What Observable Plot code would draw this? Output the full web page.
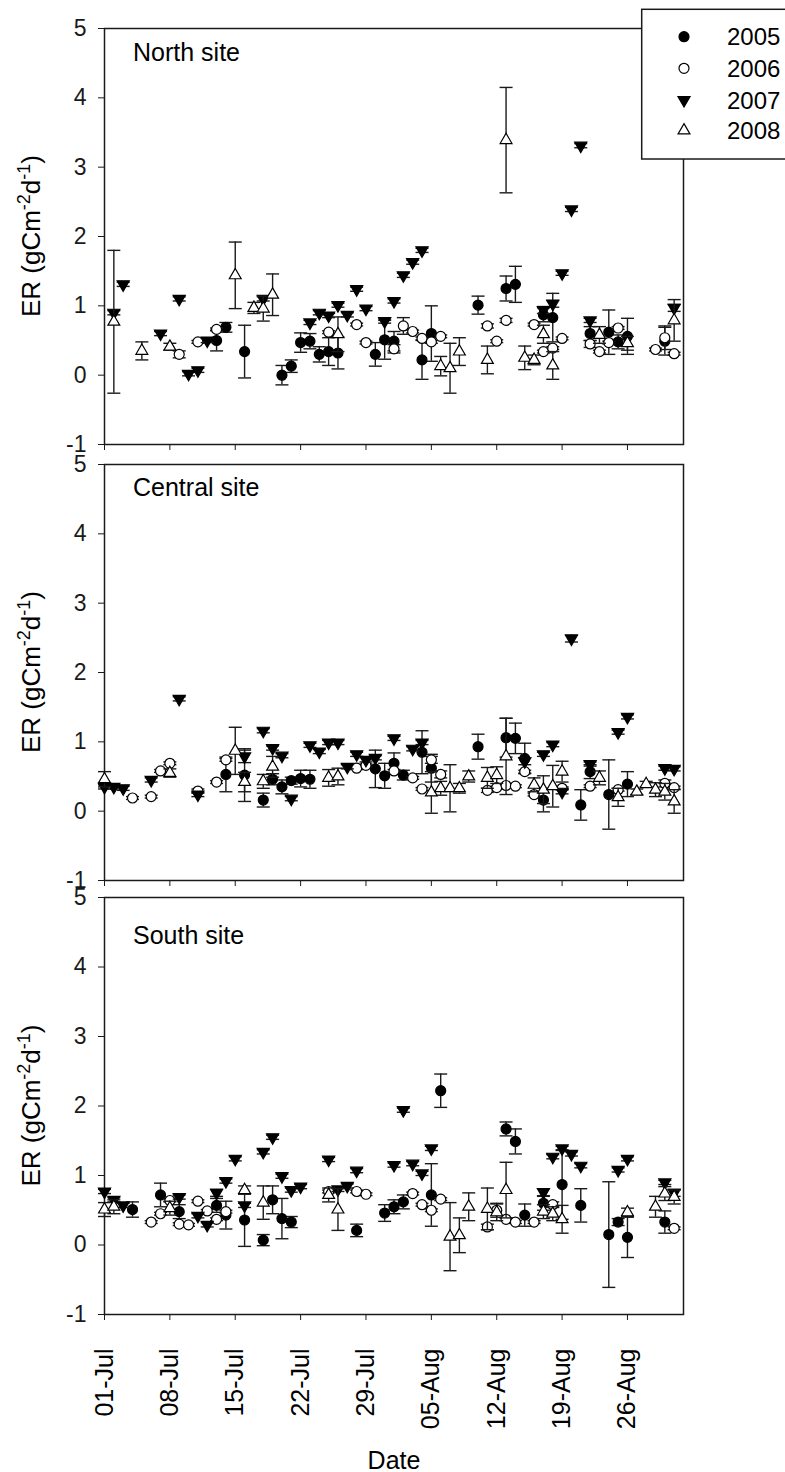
<!DOCTYPE html>
<html><head><meta charset="utf-8">
<script src="https://cdn.jsdelivr.net/npm/d3@7"></script>
<script src="https://cdn.jsdelivr.net/npm/@observablehq/plot@0.6"></script>
<style>
html,body{margin:0;padding:0;background:#fff;}
#wrap{position:relative;width:785px;height:1472px;overflow:hidden;font-family:"Liberation Sans",Arial,sans-serif;}
</style></head><body><div id="wrap"></div><script>
// ---------- data ----------
const years = ["2005", "2006", "2007", "2008"];
const sites = ["North site", "Central site", "South site"];
const tickDays = [0, 7, 14, 21, 28, 35, 42, 49, 56];       // days after 01-Jul
const tickLabels = ["01-Jul", "08-Jul", "15-Jul", "22-Jul", "29-Jul", "05-Aug", "12-Aug", "19-Aug", "26-Aug"];
const yTicks = [-1, 0, 1, 2, 3, 4, 5];
const yLabel = ["ER (gCm", "-2", "d", "-1", ")"];
const xLabel = "Date";

// [day after 01-Jul, ER, error]
const north2005 = [[12,0.50,0.15],[13,0.69,0.07],[15,0.34,0.38],[19,0.00,0.14],[20,0.13,0.09],[21,0.47,0.14],[22,0.49,0.11],[23,0.30,0.11],[24,0.34,0.20],[25,0.32,0.23],[29,0.30,0.17],[30,0.51,0.28],[31,0.49,0.14],[34,0.22,0.28],[35,0.60,0.40],[40,1.01,0.13],[43,1.25,0.18],[44,1.31,0.26],[47,0.87,0.10],[48,0.83,0.35],[52,0.60,0.10],[54,0.62,0.32],[55,0.48,0.10],[56,0.56,0.26],[60,0.49,0.20]];
const north2006 = [[8,0.30,0.05],[10,0.48,0.02],[12,0.66,0.02],[24,0.62,0.02],[27,0.73,0.02],[28,0.47,0.02],[31,0.38,0.06],[32,0.71,0.12],[33,0.63,0.02],[34,0.53,0.02],[35,0.48,0.02],[36,0.56,0.02],[41,0.71,0.03],[42,0.49,0.02],[43,0.79,0.03],[46,0.73,0.02],[47,0.34,0.02],[48,0.39,0.02],[49,0.53,0.02],[52,0.45,0.05],[53,0.34,0.02],[54,0.47,0.02],[55,0.68,0.02],[59,0.37,0.02],[60,0.54,0.17],[61,0.31,0.02]];
const north2007 = [[1,0.90,0.03],[2,1.31,0.03],[6,0.60,0.03],[8,1.10,0.03],[9,0.02,0.03],[10,0.07,0.03],[11,0.50,0.03],[17,1.10,0.03],[22,0.76,0.03],[23,0.90,0.03],[24,0.86,0.03],[25,1.01,0.03],[26,0.87,0.03],[27,1.24,0.03],[28,0.96,0.03],[30,0.78,0.03],[31,1.07,0.03],[32,1.44,0.03],[33,1.63,0.03],[34,1.80,0.03],[47,0.94,0.05],[48,1.03,0.05],[49,1.47,0.03],[50,2.39,0.03],[51,3.31,0.03],[52,0.79,0.03],[61,0.97,0.05]];
const north2008 = [[1,0.77,1.03],[4,0.35,0.13],[7,0.41,0.05],[14,1.44,0.48],[16,0.97,0.08],[17,0.96,0.18],[18,1.16,0.30],[25,0.59,0.25],[36,0.13,0.14],[37,0.10,0.36],[38,0.34,0.20],[41,0.22,0.20],[43,3.39,0.76],[45,0.25,0.17],[46,0.22,0.07],[47,0.59,0.13],[48,0.14,0.20],[53,0.58,0.12],[56,0.46,0.10],[61,0.79,0.30]];

const central2005 = [[13,0.53,0.25],[15,0.52,0.38],[17,0.16,0.10],[18,0.46,0.08],[19,0.35,0.10],[20,0.44,0.05],[21,0.47,0.12],[22,0.46,0.13],[29,0.61,0.27],[30,0.51,0.18],[31,0.69,0.15],[32,0.52,0.07],[34,0.85,0.31],[35,0.62,0.20],[40,0.93,0.18],[43,1.06,0.28],[44,1.05,0.22],[45,0.76,0.22],[47,0.16,0.17],[51,0.09,0.22],[52,0.57,0.10],[54,0.24,0.50],[56,0.39,0.18]];
const central2006 = [[3,0.19,0.02],[5,0.21,0.02],[6,0.58,0.02],[7,0.69,0.02],[10,0.29,0.03],[12,0.42,0.02],[13,0.74,0.02],[27,0.62,0.02],[28,0.66,0.02],[31,0.58,0.02],[33,0.48,0.02],[34,0.32,0.02],[35,0.74,0.05],[36,0.53,0.05],[41,0.30,0.03],[42,0.34,0.02],[43,0.37,0.02],[44,0.36,0.02],[45,0.57,0.02],[46,0.24,0.02],[49,0.33,0.02],[52,0.36,0.02],[55,0.31,0.02],[60,0.40,0.05],[61,0.34,0.02]];
const central2007 = [[0,0.35,0.03],[1,0.35,0.03],[2,0.33,0.03],[5,0.45,0.03],[8,1.62,0.03],[10,0.24,0.03],[15,0.79,0.09],[17,1.16,0.03],[18,0.91,0.03],[19,0.80,0.03],[20,0.18,0.03],[22,0.95,0.03],[23,0.86,0.03],[24,0.99,0.03],[25,0.99,0.03],[26,0.64,0.03],[27,0.82,0.03],[28,0.74,0.03],[29,0.77,0.03],[31,1.05,0.03],[33,0.90,0.03],[34,0.99,0.03],[45,0.72,0.05],[47,0.82,0.03],[48,0.96,0.03],[49,0.28,0.03],[50,2.49,0.05],[52,0.68,0.03],[55,1.14,0.03],[56,1.36,0.03],[60,0.62,0.03],[61,0.61,0.03]];
const central2008 = [[0,0.46,0.11],[7,0.55,0.06],[14,0.87,0.34],[15,0.42,0.14],[17,0.43,0.10],[18,0.64,0.15],[24,0.48,0.12],[25,0.50,0.12],[35,0.27,0.30],[36,0.33,0.10],[37,0.33,0.34],[38,0.33,0.07],[39,0.50,0.08],[41,0.48,0.15],[42,0.52,0.12],[43,0.79,0.55],[46,0.38,0.10],[47,0.31,0.20],[48,0.36,0.30],[49,0.57,0.15],[53,0.48,0.10],[55,0.20,0.13],[57,0.28,0.04],[58,0.39,0.04],[59,0.31,0.10],[60,0.28,0.12],[61,0.14,0.17]];

const south2005 = [[3,0.51,0.11],[6,0.72,0.17],[8,0.48,0.10],[12,0.57,0.10],[13,0.43,0.20],[15,0.36,0.38],[17,0.07,0.08],[18,0.65,0.20],[19,0.38,0.29],[20,0.33,0.08],[27,0.21,0.09],[30,0.46,0.12],[31,0.55,0.10],[32,0.62,0.10],[35,0.72,0.45],[36,2.22,0.24],[43,1.67,0.10],[44,1.49,0.18],[45,0.43,0.16],[47,0.60,0.10],[49,0.87,0.50],[51,0.57,0.24],[54,0.15,0.76],[55,0.33,0.05],[56,0.11,0.29],[60,0.33,0.16]];
const south2006 = [[5,0.33,0.02],[6,0.45,0.02],[7,0.64,0.02],[8,0.30,0.02],[9,0.29,0.02],[10,0.63,0.02],[11,0.49,0.02],[12,0.37,0.02],[13,0.48,0.02],[24,0.77,0.02],[27,0.77,0.02],[28,0.73,0.02],[33,0.74,0.02],[34,0.58,0.02],[35,0.50,0.02],[36,0.66,0.02],[41,0.26,0.04],[42,0.50,0.10],[43,0.37,0.02],[44,0.33,0.02],[46,0.33,0.02],[48,0.58,0.04],[61,0.24,0.02]];
const south2007 = [[0,0.77,0.03],[1,0.65,0.03],[2,0.57,0.03],[8,0.69,0.03],[10,0.42,0.03],[11,0.29,0.03],[12,0.75,0.05],[13,0.92,0.03],[14,1.24,0.03],[15,0.57,0.03],[17,1.34,0.03],[18,1.55,0.03],[19,0.99,0.03],[20,0.79,0.03],[21,0.84,0.03],[24,1.23,0.03],[25,0.80,0.03],[26,0.85,0.03],[27,1.07,0.03],[31,1.15,0.03],[32,1.94,0.03],[33,1.17,0.03],[34,1.03,0.03],[35,1.39,0.03],[47,0.76,0.05],[48,1.27,0.03],[49,1.39,0.03],[50,1.31,0.03],[51,1.14,0.03],[55,1.08,0.03],[56,1.24,0.03],[60,0.90,0.03],[61,0.75,0.05]];
const south2008 = [[0,0.51,0.10],[1,0.55,0.10],[7,0.53,0.10],[15,0.79,0.06],[17,0.61,0.24],[24,0.72,0.10],[25,0.51,0.30],[37,0.12,0.49],[38,0.14,0.25],[39,0.55,0.20],[41,0.52,0.30],[42,0.47,0.12],[43,0.79,0.40],[47,0.48,0.10],[48,0.45,0.10],[49,0.37,0.20],[56,0.47,0.06],[59,0.55,0.15],[60,0.74,0.10],[61,0.69,0.10]];

const seriesBySite = {
  "North site":   {"2005": north2005,   "2006": north2006,   "2007": north2007,   "2008": north2008},
  "Central site": {"2005": central2005, "2006": central2006, "2007": central2007, "2008": central2008},
  "South site":   {"2005": south2005,   "2006": south2006,   "2007": south2007,   "2008": south2008}
};

// ---------- styles / layout ----------
const FONT = "'Liberation Sans', Arial, Helvetica, sans-serif";
const INK = "#1a1a1a";
const yearStyle = {
  "2005": {symbol: "circle",   fill: "#000", r: 5.0, rotate: 0},
  "2006": {symbol: "circle",   fill: "#fff", r: 5.0, rotate: 0},
  "2007": {symbol: "triangle", fill: "#000", r: 4.5, rotate: 180},
  "2008": {symbol: "triangle", fill: "#fff", r: 4.4, rotate: 0}
};
const capSymbol = {draw(ctx) { ctx.moveTo(-6.5, 0); ctx.lineTo(6.5, 0); }};
const layout = [
  {top: 0,   height: 454, mt: 28, mb: 10,  labelDy: 15, showX: false},
  {top: 454, height: 433, mt: 10, mb: 7,   labelDy: 14, showX: false},
  {top: 887, height: 585, mt: 10, mb: 158, labelDy: 29, showX: true}
];

const wrap = document.getElementById("wrap");

sites.forEach((site, i) => {
  const L = layout[i];
  const rows = years.flatMap(y => seriesBySite[site][y].map(([day, er, sd]) => ({year: y, day, er, lo: er - sd, hi: er + sd})));
  const yearMarks = years.flatMap(y => {
    const d = rows.filter(r => r.year === y);
    const s = yearStyle[y];
    return [
      Plot.ruleX(d, {x: "day", y1: "lo", y2: "hi", stroke: INK, strokeWidth: 1.4}),
      Plot.dot(d, {x: "day", y: "hi", symbol: capSymbol, r: 3, fill: "none", stroke: INK, strokeWidth: 1.4}),
      Plot.dot(d, {x: "day", y: "lo", symbol: capSymbol, r: 3, fill: "none", stroke: INK, strokeWidth: 1.4}),
      Plot.dot(d, {x: "day", y: "er", symbol: s.symbol, r: s.r, rotate: s.rotate, fill: s.fill, stroke: "#000", strokeWidth: 1.2})
    ];
  });
  const marks = [
    Plot.frame({stroke: INK, strokeWidth: 1.5}),
    Plot.axisY({ticks: yTicks, tickSize: 6, tickPadding: 12, tickFormat: d => String(d), label: null, fontSize: 23}),
    Plot.axisX({ticks: tickDays, tickSize: 6, tickFormat: () => "", label: null}),
    ...yearMarks,
    Plot.text([site], {frameAnchor: "top-left", dx: 28.5, dy: L.labelDy, textAnchor: "start", lineAnchor: "top", fontSize: 25, fill: "#000"})
  ];
  if (L.showX) {
    marks.push(Plot.text(tickDays, {x: d => d, text: (d, k) => tickLabels[k], frameAnchor: "bottom", dy: 34, rotate: -90, textAnchor: "end", lineAnchor: "middle", fontSize: 25, fill: "#000"}));
    marks.push(Plot.text([xLabel], {frameAnchor: "bottom", dy: 146, lineAnchor: "middle", fontSize: 25, fill: "#000"}));
  }
  const el = Plot.plot({
    width: 785, height: L.height,
    marginLeft: 104, marginRight: 102, marginTop: L.mt, marginBottom: L.mb,
    x: {domain: [0, 62]},
    y: {domain: [-1, 5]},
    style: {fontFamily: FONT, fontSize: "24px", color: INK, background: "transparent", overflow: "visible"},
    marks
  });
  el.style.position = "absolute";
  el.style.left = "0px";
  el.style.top = L.top + "px";
  // y-axis title with superscripts
  const midY = L.mt + (L.height - L.mt - L.mb) / 2;
  const t = d3.select(el).append("text")
    .attr("transform", `translate(40,${midY}) rotate(-90)`)
    .attr("text-anchor", "middle")
    .attr("fill", "#000")
    .style("font-family", FONT).style("font-size", "26px");
  t.append("tspan").text(yLabel[0]);
  t.append("tspan").attr("dy", -10).style("font-size", "18px").text(yLabel[1]);
  t.append("tspan").attr("dy", 10).text(yLabel[2]);
  t.append("tspan").attr("dy", -10).style("font-size", "18px").text(yLabel[3]);
  t.append("tspan").attr("dy", 10).text(yLabel[4]);
  wrap.appendChild(el);
});

// ---------- legend (over the top-right corner) ----------
const lg = d3.select(wrap).append("svg")
  .attr("width", 785).attr("height", 170)
  .style("position", "absolute").style("left", "0px").style("top", "0px");
lg.append("rect").attr("x", 641.7).attr("y", 9.3).attr("width", 200).attr("height", 149.7)
  .attr("fill", "#fff").attr("stroke", INK).attr("stroke-width", 1.5);
const rowY = [36.7, 68.3, 100, 130.5];
years.forEach((y, i) => {
  const s = yearStyle[y];
  const type = s.symbol === "circle" ? d3.symbolCircle : d3.symbolTriangle;
  lg.append("path")
    .attr("d", d3.symbol(type, Math.PI * s.r * s.r)())
    .attr("transform", `translate(684,${rowY[i]}) rotate(${s.rotate})`)
    .attr("fill", s.fill).attr("stroke", "#000").attr("stroke-width", 1.2);
  lg.append("text").attr("x", 727).attr("y", rowY[i] + 8.5)
    .style("font-family", FONT).style("font-size", "24px").attr("fill", "#000").text(y);
});
</script></body></html>
